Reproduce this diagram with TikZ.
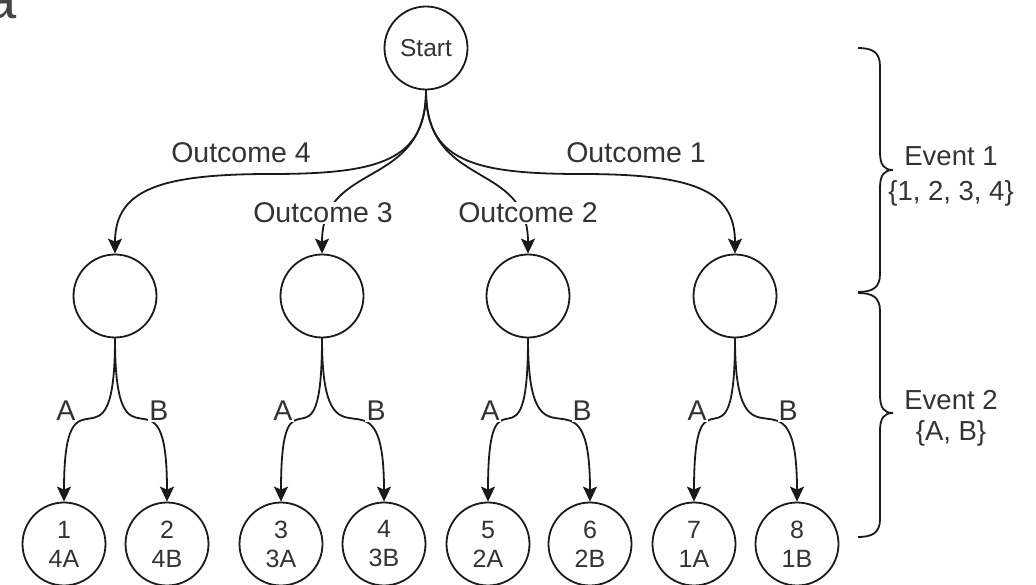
\documentclass[tikz,border=0pt]{standalone}
\usepackage{fontspec}
\setmainfont{Liberation Sans}
\usetikzlibrary{arrows.meta}
\definecolor{lncol}{HTML}{1A1A1A}
\definecolor{txtcol}{HTML}{333333}
\definecolor{acol}{HTML}{444444}
\begin{document}
\begin{tikzpicture}[x=1pt,y=-1pt,
  circ/.style={circle, draw=lncol, fill=white, line width=1.8pt, minimum size=83pt, inner sep=0pt, text=txtcol},
  arr/.style={draw=lncol, line width=1.8pt, -{Stealth[length=15pt,width=14pt,inset=3pt]}},
  bracestyle/.style={draw=lncol, line width=1.8pt},
  lab/.style={text=txtcol, font=\fontsize{28.5}{31}\selectfont, inner sep=1pt},
  cut/.style={lab, fill=white},
]
\useasboundingbox (0,0) rectangle (1036,585);

% partial letter at top-left
\node[anchor=base east, inner sep=0pt, text=acol, font=\fontsize{56}{60}\selectfont] (corner) at (17,19) {a};

% nodes
\node[circ, font=\fontsize{24.5}{28}\selectfont] (S) at (426,48) {Start};
\node[circ] (m1) at (115,296) {};
\node[circ] (m2) at (322,296) {};
\node[circ] (m3) at (528,296) {};
\node[circ] (m4) at (735,296) {};

\tikzset{leaf/.style={circ, align=center, font=\fontsize{25}{29}\selectfont}}
\node[leaf] (l1) at (64,544)  {1\\4A};
\node[leaf] (l2) at (167,544) {2\\4B};
\node[leaf] (l3) at (281,544) {3\\3A};
\node[leaf] (l4) at (384,544) {4\\3B};
\node[leaf] (l5) at (488,544) {5\\2A};
\node[leaf] (l6) at (590,544) {6\\2B};
\node[leaf] (l7) at (694,544) {7\\1A};
\node[leaf] (l8) at (797,544) {8\\1B};

% first-level connectors
\coordinate (c4) at (271,174);
\coordinate (c1) at (581,174);
\draw[arr] (S.south) .. controls +(0,70) and +(109,0) .. (c4) .. controls +(-111,0) and +(0,-64) .. (m1.north);
\draw[arr] (S.south) .. controls +(0,70) and +(-109,0) .. (c1) .. controls +(111,0) and +(0,-64) .. (m4.north);
\draw[arr] (S.south) .. controls +(0,100) and +(0,-94) .. (m2.north);
\draw[arr] (S.south) .. controls +(0,100) and +(0,-94) .. (m3.north);

% second-level connectors
\foreach \p/\a/\b in {m1/l1/l2, m2/l3/l4, m3/l5/l6, m4/l7/l8}{
  \draw[arr] (\p.south) .. controls +(0,150) and +(0,-150) .. (\a.north);
  \draw[arr] (\p.south) .. controls +(0,150) and +(0,-150) .. (\b.north);
}

% labels
\node[lab] (t4) at (241,153) {Outcome 4};
\node[lab] (t1) at (636,153) {Outcome 1};
\node[cut] (t3) at (323,213) {Outcome 3};
\node[cut] (t2) at (528,213) {Outcome 2};

\node[cut] (a1) at (66,411) {A};
\node[cut] (b1) at (159,411) {B};
\node[cut] (a2) at (283,411) {A};
\node[cut] (b2) at (376,411) {B};
\node[cut] (a3) at (490,411) {A};
\node[cut] (b3) at (582,411) {B};
\node[cut] (a4) at (697,411) {A};
\node[cut] (b4) at (788,411) {B};

% braces
\draw[bracestyle] (858,48) .. controls (872,48) and (880,52) .. (880,66) -- (880,152)
  .. controls (880,165) and (884,170) .. (893,170)
  .. controls (884,170) and (880,175) .. (880,188) -- (880,274)
  .. controls (880,288) and (872,292) .. (858,292);
\draw[bracestyle] (858,293) .. controls (872,293) and (880,297) .. (880,311) -- (880,395)
  .. controls (880,408) and (884,413) .. (893,413)
  .. controls (884,413) and (880,418) .. (880,431) -- (880,519)
  .. controls (880,533) and (872,537) .. (858,537);

\node[lab, align=center, font=\fontsize{27.5}{35}\selectfont] (e1) at (951,176) {Event 1\\\{1, 2, 3, 4\}};
\node[lab, align=center, font=\fontsize{27.5}{31}\selectfont] (e2) at (951,418) {Event 2\\\{A, B\}};
\end{tikzpicture}
\end{document}
